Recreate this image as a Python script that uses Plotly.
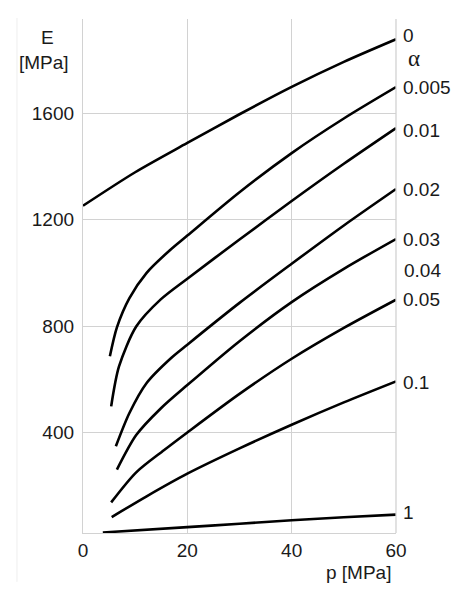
import plotly.graph_objects as go

# ---- data ----
alpha_labels = ["0", "0.005", "0.01", "0.02", "0.03", "0.05", "0.1", "1"]

p_a0 = [0, 10, 20, 30, 40, 50, 60]
E_a0 = [1252, 1378, 1488, 1596, 1699, 1793, 1878]

p_a005 = [5.15, 6.5, 8.9, 12.2, 16.6, 20, 30, 40, 50, 60]
E_a005 = [686, 795, 905, 1000, 1084, 1140, 1303, 1450, 1580, 1698]

p_a01 = [5.4, 6.9, 10.2, 14.9, 20, 30, 40, 50, 60]
E_a01 = [498, 648, 798, 900, 978, 1125, 1270, 1410, 1544]

p_a02 = [6.3, 8.9, 12.2, 16.9, 20, 30, 40, 50, 60]
E_a02 = [348, 473, 586, 680, 730, 887, 1034, 1178, 1315]

p_a03 = [6.5, 10.2, 14.9, 20, 30, 40, 50, 60]
E_a03 = [260, 390, 490, 578, 743, 890, 1015, 1127]

p_a05 = [5.4, 10.2, 15.5, 20, 30, 40, 50, 60]
E_a05 = [137, 250, 333, 400, 545, 677, 793, 899]

p_a1 = [5.5, 12.2, 20, 30, 40, 50, 60]
E_a1 = [82, 160, 245, 340, 429, 513, 592]

p_a10 = [3.8, 20, 30, 40, 50, 60]
E_a10 = [24, 44, 57, 70, 81, 91]

series_p = [p_a0, p_a005, p_a01, p_a02, p_a03, p_a05, p_a1, p_a10]
series_E = [E_a0, E_a005, E_a01, E_a02, E_a03, E_a05, E_a1, E_a10]

x_ticks = [0, 20, 40, 60]
y_ticks = [400, 800, 1200, 1600]

# ---- style ----
FONT = "Liberation Sans, Arial, Helvetica, sans-serif"
SERIF = "Liberation Serif, Times New Roman, serif"
TXT = "#1a1a1a"
GRID = "#d2d2d2"
label_yshift = {"0": 4, "0.005": 0, "0.01": -2, "0.02": 0, "0.03": 0,
                "0.05": 0, "0.1": -1, "1": 2}

fig = go.Figure()
for lab, px, ey in zip(alpha_labels, series_p, series_E):
    fig.add_trace(go.Scatter(
        x=px, y=ey, mode="lines", name=lab, showlegend=False,
        line=dict(color="black", width=2.6, shape="spline", smoothing=0.8),
        hoverinfo="skip"))

annotations = []
for lab, px, ey in zip(alpha_labels, series_p, series_E):
    annotations.append(dict(
        x=px[-1], y=ey[-1], xref="x", yref="y", text=lab, showarrow=False,
        xanchor="left", yanchor="middle", xshift=5, yshift=label_yshift[lab],
        font=dict(family=FONT, size=19, color=TXT)))

# extra right-side texts
annotations.append(dict(x=1.0, y=0.924, xref="paper", yref="paper", text="α",
                        showarrow=False, xanchor="left", yanchor="middle", xshift=10,
                        font=dict(family=SERIF, size=23, color=TXT)))
annotations.append(dict(x=1.0, y=0.5106, xref="paper", yref="paper", text="0.04",
                        showarrow=False, xanchor="left", yanchor="middle", xshift=6,
                        font=dict(family=FONT, size=19, color=TXT)))
# axis titles
annotations.append(dict(x=-0.1134, y=0.964, xref="paper", yref="paper", text="E",
                        showarrow=False, xanchor="center", yanchor="middle",
                        font=dict(family=FONT, size=19, color=TXT)))
annotations.append(dict(x=-0.1246, y=0.9145, xref="paper", yref="paper", text="[MPa]",
                        showarrow=False, xanchor="center", yanchor="middle",
                        font=dict(family=FONT, size=19, color=TXT)))
annotations.append(dict(x=0.99, y=-0.0766, xref="paper", yref="paper", text="p [MPa]",
                        showarrow=False, xanchor="right", yanchor="middle",
                        font=dict(family=FONT, size=19, color=TXT)))

shapes = [
    dict(type="line", xref="paper", yref="paper", x0=1, x1=1, y0=0, y1=1,
         line=dict(color=GRID, width=1.3)),
    dict(type="line", xref="paper", yref="paper", x0=-0.211, x1=-0.211, y0=-0.095, y1=1.002,
         line=dict(color="#eeeeee", width=1)),
]

fig.update_layout(
    width=452, height=588,
    margin=dict(l=75, r=64, t=11, b=63),
    paper_bgcolor="white", plot_bgcolor="white",
    annotations=annotations, shapes=shapes,
    font=dict(family=FONT, size=19, color=TXT),
)
fig.update_xaxes(range=[0, 60], tickvals=x_ticks, showgrid=True, gridcolor=GRID,
                 gridwidth=1.3, showline=True, linecolor=GRID, linewidth=1.3,
                 zeroline=False, ticks="", tickfont=dict(family=FONT, size=19, color=TXT))
fig.update_yaxes(range=[22, 1954], tickvals=y_ticks, showgrid=True, gridcolor=GRID,
                 gridwidth=1.3, showline=True, linecolor=GRID, linewidth=1.3,
                 zeroline=False, ticks="", ticklabelstandoff=4,
                 tickfont=dict(family=FONT, size=19, color=TXT))

fig.write_html("out.html")
